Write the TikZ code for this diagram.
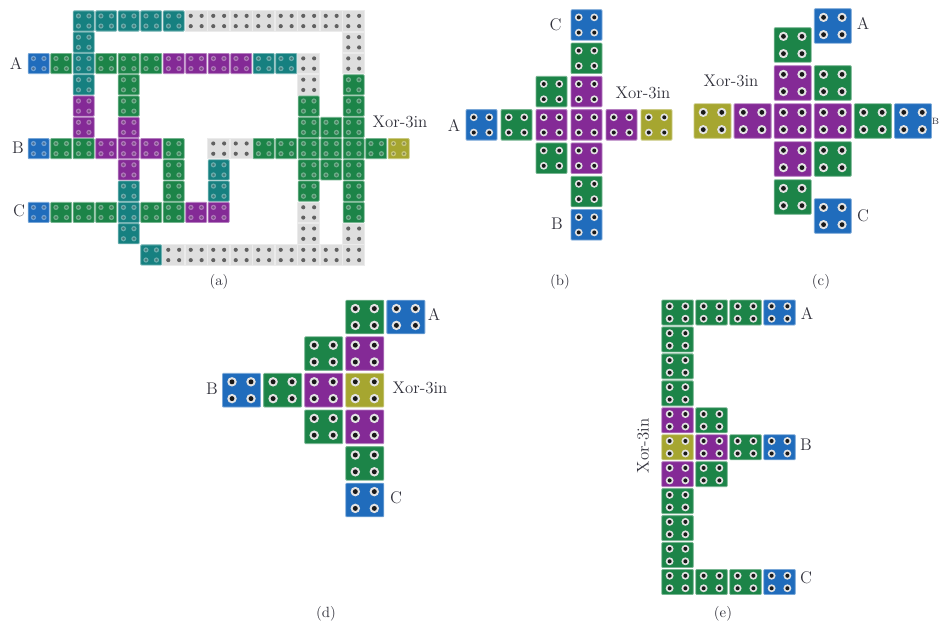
\documentclass[tikz,border=0pt]{standalone}
\usepackage{tikz}
\usepackage{xcolor}
\definecolor{chipblue}{RGB}{32,108,188}
\definecolor{chipgreen}{RGB}{28,132,72}
\definecolor{chipteal}{RGB}{22,128,128}
\definecolor{chippurple}{RGB}{132,42,150}
\definecolor{chipolive}{RGB}{166,166,48}
\definecolor{chipgray}{RGB}{222,222,222}
\definecolor{inktext}{RGB}{50,50,60}

\tikzset{
  tilebox/.style={draw=#1!60!white, fill=#1, line width=0.6pt, rounded corners=0.6pt, inner sep=0pt, outer sep=0pt},
  holering/.style={fill=gray!22},
  holedot/.style={fill=black!90},
  inlabel/.style={text=inktext, font=\fontsize{12}{14}\selectfont, inner sep=0pt},
  panelcap/.style={text=inktext, font=\fontsize{10.5}{12}\selectfont, inner sep=0pt}
}

% one tile: column, row, colour (uses the panel's grid macros)
\newcommand{\tile}[3]{%
  \pgfmathsetmacro{\tx}{\ox+\px*#1}
  \pgfmathsetmacro{\ty}{\oy+\py*#2}
  \node[tilebox=#3, minimum width=\tw*0.025cm, minimum height=\th*0.025cm] (\pn-#1-#2) at (\tx,\ty) {};
  \foreach \sx in {-1,1}{
    \foreach \sy in {-1,1}{
      \fill[holering] (\tx+\sx*\tw*0.25,\ty+\sy*\th*0.25) circle (\tw*0.125);
      \fill[holedot] (\tx+\sx*\tw*0.25,\ty+\sy*\th*0.25) circle (\tw*\dotr);
    }
  }
}
\def\dotr{0.065}
% grid of a panel: panel name, origin x, origin y, pitch x, pitch y, width, height
\newcommand{\panelgrid}[7]{%
  \def\pn{#1}\def\ox{#2}\def\oy{#3}\def\px{#4}\def\py{#5}\def\tw{#6}\def\th{#7}%
}

\begin{document}
\begin{tikzpicture}[x=0.025cm,y=-0.025cm]
\useasboundingbox (0,0) rectangle (939,624);

% ── Panel (a) ────────────────────────────────────────────────────────────────
\begin{scope}[holering/.style={fill=white, fill opacity=0.36}, holedot/.style={fill=black, fill opacity=0.3}]
\panelgrid{a}{38.7}{21}{22.5}{21.27}{21}{20.2}
% routing tiles
\begin{scope}[holering/.style={fill=chipgray}, holedot/.style={fill=black!62}, tilebox/.style={draw=gray!16, fill=chipgray, line width=0.6pt, inner sep=0pt, outer sep=0pt}]
\def\dotr{0.095}
\panelgrid{ag}{38.7}{21}{22.5}{21.27}{21.8}{20.6}
\foreach \c/\r in {7/0,8/0,9/0,10/0,11/0,12/0,13/0,14/0,14/1,14/2,12/2,12/3,8/6,9/6,12/9,12/10,14/10,
                   6/11,7/11,8/11,9/11,10/11,11/11,12/11,13/11,14/11}{
  \tile{\c}{\r}{chipgray}
}
\end{scope}
\foreach \c/\r in {2/0,3/0,4/0,5/0,6/0,2/1,2/2,2/3,10/2,11/2,4/8,8/7,8/8,4/9,4/10,5/11}{
  \tile{\c}{\r}{chipteal}
}
\foreach \c/\r in {1/2,3/2,4/2,5/2,4/3,4/4,1/6,2/6,6/6,6/7,6/8,1/9,2/9,3/9,5/9,6/9,
                   14/3,12/4,14/4,12/5,13/5,14/5,10/6,11/6,12/6,13/6,14/6,15/6,
                   12/7,13/7,14/7,12/8,14/8,14/9}{
  \tile{\c}{\r}{chipgreen}
}
\foreach \c/\r in {6/2,7/2,8/2,9/2,2/4,2/5,4/5,3/6,4/6,5/6,4/7,7/9,8/9}{
  \tile{\c}{\r}{chippurple}
}
\foreach \r in {2,6,9}{
  \tile{0}{\r}{chipblue}
}
\tile{16}{6}{chipolive}
\end{scope}
\node[inlabel] (aA) at (16,63) {A};
\node[inlabel] (aB) at (18,148) {B};
\node[inlabel] (aC) at (19,211) {C};
\node[inlabel] (aXor) at (400,122) {Xor-3in};
\node[panelcap] (capa) at (219,282) {(a)};

% ── Panel (b) ────────────────────────────────────────────────────────────────
\panelgrid{b}{481.5}{25}{35}{33.3}{31}{30.5}
\foreach \c/\r/\k in {3/0/chipblue,3/1/chipgreen,2/2/chipgreen,3/2/chippurple,0/3/chipblue,1/3/chipgreen,
                      2/3/chippurple,3/3/chippurple,4/3/chippurple,5/3/chipolive,2/4/chipgreen,3/4/chippurple,
                      3/5/chipgreen,3/6/chipblue}{
  \tile{\c}{\r}{\k}
}
\node[inlabel] (bC) at (555.5,25) {C};
\node[inlabel] (bA) at (454,125) {A};
\node[inlabel] (bB) at (557,224) {B};
\node[inlabel] (bXor) at (643,93) {Xor-3in};
\node[panelcap] (capb) at (560,282) {(b)};

% ── Panel (c) ────────────────────────────────────────────────────────────────
\panelgrid{c}{712.5}{26}{40.1}{19}{37}{34.5}
\foreach \c/\r/\k in {3/0/chipblue,2/1/chipgreen,2/3/chippurple,3/3/chipgreen,0/5/chipolive,1/5/chippurple,
                      2/5/chippurple,3/5/chippurple,4/5/chipgreen,5/5/chipblue,2/7/chippurple,3/7/chipgreen,
                      2/9/chipgreen,3/10/chipblue}{
  \tile{\c}{\r}{\k}
}
\node[inlabel] (cA) at (863,23) {A};
\node[inlabel] (cC) at (863,216) {C};
\node[inlabel] (cXor) at (731,81) {Xor-3in};
\node[inlabel, font=\fontsize{6.5}{8}\selectfont] (cB) at (935.5,121) {B};
\node[panelcap] (capc) at (821,282) {(c)};

% ── Panel (d) ────────────────────────────────────────────────────────────────
\panelgrid{d}{241.5}{317}{41.1}{36.6}{38}{33.6}
\foreach \c/\r/\k in {3/0/chipgreen,4/0/chipblue,2/1/chipgreen,3/1/chippurple,0/2/chipblue,1/2/chipgreen,
                      2/2/chippurple,3/2/chipolive,2/3/chipgreen,3/3/chippurple,3/4/chipgreen,3/5/chipblue}{
  \tile{\c}{\r}{\k}
}
\node[inlabel] (dA) at (434,314) {A};
\node[inlabel] (dB) at (212,389) {B};
\node[inlabel] (dXor) at (420,388) {Xor-3in};
\node[inlabel] (dC) at (396,498) {C};
\node[panelcap] (capd) at (326,614) {(d)};

% ── Panel (e) ────────────────────────────────────────────────────────────────
\panelgrid{e}{677.5}{312.5}{34}{26.95}{31.5}{25}
\foreach \r in {0,1,2,3,7,8,9,10}{
  \tile{0}{\r}{chipgreen}
}
\foreach \c/\r/\k in {1/0/chipgreen,2/0/chipgreen,3/0/chipblue,0/4/chippurple,1/4/chipgreen,0/5/chipolive,
                      1/5/chippurple,2/5/chipgreen,3/5/chipblue,0/6/chippurple,1/6/chipgreen,
                      1/10/chipgreen,2/10/chipgreen,3/10/chipblue}{
  \tile{\c}{\r}{\k}
}
\node[inlabel] (eA) at (807,313) {A};
\node[inlabel] (eB) at (806,445) {B};
\node[inlabel] (eC) at (806,578) {C};
\node[inlabel, rotate=90] (eXor) at (643,446) {Xor-3in};
\node[panelcap] (cape) at (723,614) {(e)};

\end{tikzpicture}
\end{document}
